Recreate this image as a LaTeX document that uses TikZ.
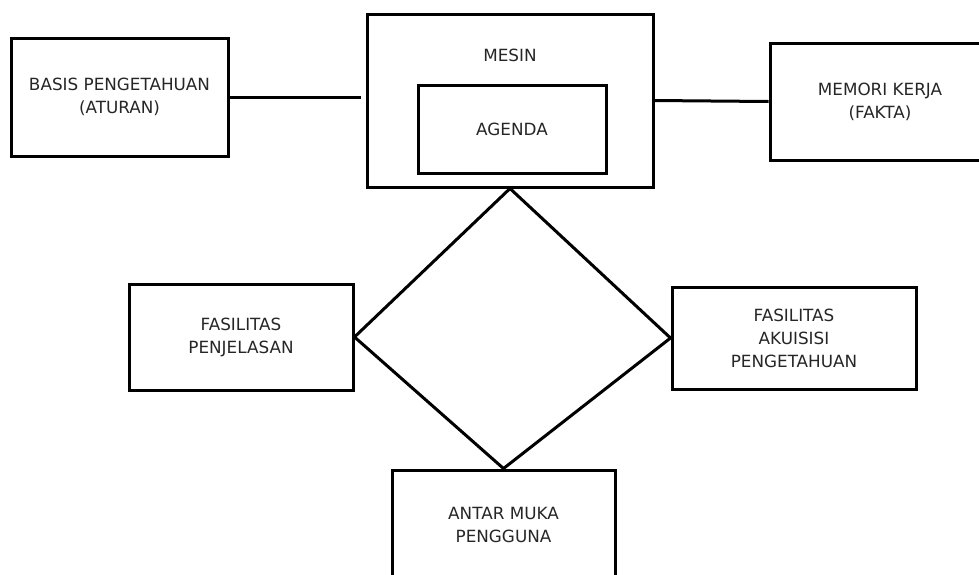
\documentclass[tikz,border=0pt]{standalone}
\usepackage{fontspec}
\setmainfont{DejaVu Sans}
\begin{document}
\begin{tikzpicture}[x=1pt,y=-1pt,
  box/.style={draw=black, line width=3pt, inner sep=0pt, align=center,
    font=\fontsize{16.8}{23}\selectfont, text=black!85},
  lbl/.style={inner sep=0pt, font=\fontsize{16.8}{23}\selectfont, text=black!85},
  conn/.style={draw=black, line width=3pt}]
\fill[white] (0,0) rectangle (979,574);
\useasboundingbox (0,0) rectangle (979,574);
\clip (0,0) rectangle (979,574);
\node[box, minimum width=217pt, minimum height=118pt] (basis) at (119.5,97) {BASIS PENGETAHUAN\\(ATURAN)};
\node[box, minimum width=286pt, minimum height=173pt] (mesin) at (510,100.5) {};
\node[lbl] (mesinlbl) at (510,55) {MESIN};
\node[box, minimum width=188pt, minimum height=88pt] (agenda) at (512,129) {AGENDA};
\node[box, minimum width=220pt, minimum height=117pt] (memori) at (880,101.5) {MEMORI KERJA\\(FAKTA)};
\node[box, minimum width=224pt, minimum height=106pt] (pen) at (241,337) {FASILITAS\\PENJELASAN};
\node[box, minimum width=244pt, minimum height=102pt] (aku) at (794,338) {FASILITAS\\AKUISISI\\PENGETAHUAN};
\node[box, minimum width=223pt, minimum height=110pt] (antar) at (503.5,525) {ANTAR MUKA\\PENGGUNA};
\coordinate (lend) at (361,97);
\draw[conn] (basis.east) -- (lend);
\draw[conn] (mesin.east) -- (memori.west);
\draw[conn, line join=miter] (mesin.south) -- (pen.east) -- (antar.north) -- (aku.west) -- (mesin.south);
\end{tikzpicture}
\end{document}
